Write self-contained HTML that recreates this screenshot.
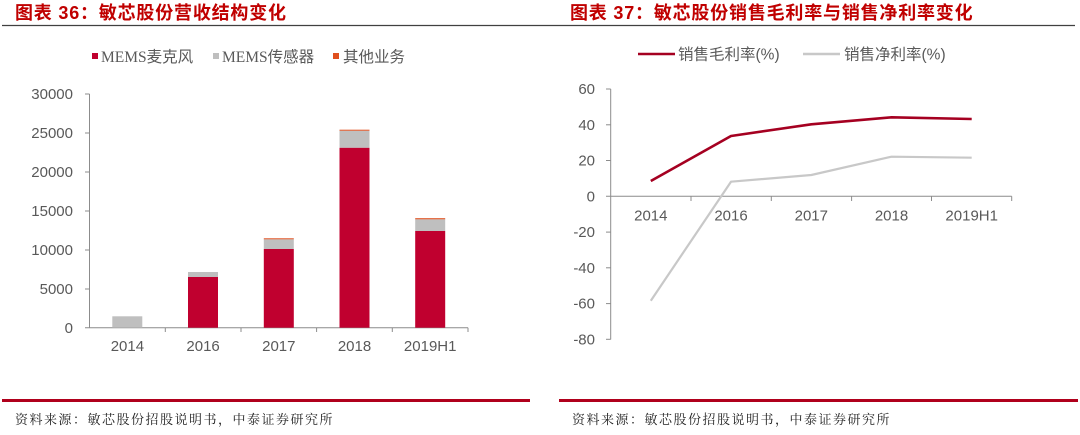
<!DOCTYPE html>
<html><head><meta charset="utf-8">
<style>
html,body{margin:0;padding:0;background:#fff;}
svg{display:block;}
.t{font-family:"Liberation Sans","Noto Sans CJK SC",sans-serif;font-weight:bold;font-size:18px;fill:#c00000;letter-spacing:0.8px;}
.ax{font-family:"Liberation Sans",sans-serif;font-size:15px;fill:#595959;}
.lg{font-family:"Liberation Serif","Noto Sans CJK SC",sans-serif;font-size:15.5px;fill:#595959;}
.lg2{font-family:"Liberation Sans","Noto Sans CJK SC",sans-serif;font-size:15.5px;fill:#595959;}
.ft{font-family:"Liberation Serif","Noto Serif CJK SC",serif;font-size:13px;fill:#222;letter-spacing:1.5px;}
</style></head>
<body>
<svg width="1080" height="435" viewBox="0 0 1080 435" xmlns="http://www.w3.org/2000/svg">
<rect width="1080" height="435" fill="#fff"/>
<!-- titles -->
<text class="t" x="15" y="19">图表 36：敏芯股份营收结构变化</text>
<text class="t" x="570" y="19">图表 37：敏芯股份销售毛利率与销售净利率变化</text>
<line x1="2" y1="25.5" x2="1075" y2="25.5" stroke="#404040" stroke-width="1.2"/>

<!-- LEFT CHART legend -->
<rect x="92" y="53" width="6" height="6" fill="#c0002f"/>
<text class="lg" x="101" y="62">MEMS麦克风</text>
<rect x="213" y="53" width="6" height="6" fill="#bfbfbf"/>
<text class="lg" x="222" y="62">MEMS传感器</text>
<rect x="333" y="53" width="6" height="6" fill="#e0501e"/>
<text class="lg" x="343" y="62">其他业务</text>

<!-- left axes -->
<g stroke="#8c8c8c" stroke-width="1">
<line x1="89.5" y1="94" x2="89.5" y2="328"/>
<line x1="85" y1="94" x2="89.5" y2="94"/>
<line x1="85" y1="133" x2="89.5" y2="133"/>
<line x1="85" y1="172" x2="89.5" y2="172"/>
<line x1="85" y1="211" x2="89.5" y2="211"/>
<line x1="85" y1="250" x2="89.5" y2="250"/>
<line x1="85" y1="289" x2="89.5" y2="289"/>
<line x1="85" y1="327.7" x2="468" y2="327.7"/>
<line x1="165.3" y1="327.7" x2="165.3" y2="332"/>
<line x1="241" y1="327.7" x2="241" y2="332"/>
<line x1="316.6" y1="327.7" x2="316.6" y2="332"/>
<line x1="392.3" y1="327.7" x2="392.3" y2="332"/>
<line x1="468" y1="327.7" x2="468" y2="332"/>
</g>
<g class="ax" text-anchor="end">
<text x="73" y="99">30000</text>
<text x="73" y="138">25000</text>
<text x="73" y="177">20000</text>
<text x="73" y="216">15000</text>
<text x="73" y="255">10000</text>
<text x="73" y="294">5000</text>
<text x="73" y="333">0</text>
</g>
<g class="ax" text-anchor="middle">
<text x="127.4" y="351">2014</text>
<text x="203.1" y="351">2016</text>
<text x="278.8" y="351">2017</text>
<text x="354.5" y="351">2018</text>
<text x="430.2" y="351">2019H1</text>
</g>
<!-- bars -->
<rect x="112.3" y="316.3" width="30" height="11.4" fill="#bfbfbf"/>

<rect x="188" y="277" width="30" height="50.7" fill="#c0002f"/>
<rect x="188" y="272" width="30" height="5" fill="#bfbfbf"/>

<rect x="263.8" y="249" width="30" height="78.7" fill="#c0002f"/>
<rect x="263.8" y="239.3" width="30" height="9.7" fill="#bfbfbf"/>
<rect x="263.8" y="238.3" width="30" height="1" fill="#e0501e"/>

<rect x="339.5" y="147.7" width="30" height="180" fill="#c0002f"/>
<rect x="339.5" y="130.7" width="30" height="17" fill="#bfbfbf"/>
<rect x="339.5" y="129.7" width="30" height="1" fill="#e0501e"/>

<rect x="415.2" y="231" width="30" height="96.7" fill="#c0002f"/>
<rect x="415.2" y="219.3" width="30" height="11.7" fill="#bfbfbf"/>
<rect x="415.2" y="218.2" width="30" height="1.1" fill="#e0501e"/>

<!-- RIGHT CHART legend -->
<line x1="638" y1="54" x2="675" y2="54" stroke="#a50021" stroke-width="2.5"/>
<text class="lg2" x="678" y="59.5">销售毛利率(%)</text>
<line x1="803" y1="54" x2="840" y2="54" stroke="#c8c8c8" stroke-width="2.5"/>
<text class="lg2" x="844" y="59.5">销售净利率(%)</text>

<g stroke="#8c8c8c" stroke-width="1">
<line x1="610.7" y1="89" x2="610.7" y2="339.5"/>
<line x1="606" y1="89" x2="610.7" y2="89"/>
<line x1="606" y1="124.8" x2="610.7" y2="124.8"/>
<line x1="606" y1="160.5" x2="610.7" y2="160.5"/>
<line x1="606" y1="232.1" x2="610.7" y2="232.1"/>
<line x1="606" y1="267.8" x2="610.7" y2="267.8"/>
<line x1="606" y1="303.6" x2="610.7" y2="303.6"/>
<line x1="606" y1="339.3" x2="610.7" y2="339.3"/>
<line x1="606" y1="196.3" x2="1011.7" y2="196.3"/>
<line x1="691" y1="196.3" x2="691" y2="201"/>
<line x1="771.3" y1="196.3" x2="771.3" y2="201"/>
<line x1="851.6" y1="196.3" x2="851.6" y2="201"/>
<line x1="931.5" y1="196.3" x2="931.5" y2="201"/>
<line x1="1011.7" y1="196.3" x2="1011.7" y2="201"/>
</g>
<g class="ax" text-anchor="end">
<text x="595" y="94">60</text>
<text x="595" y="130">40</text>
<text x="595" y="165.5">20</text>
<text x="595" y="201.5">0</text>
<text x="595" y="237">-20</text>
<text x="595" y="273">-40</text>
<text x="595" y="308.5">-60</text>
<text x="595" y="344.5">-80</text>
</g>
<g class="ax" text-anchor="middle">
<text x="650.8" y="220.5">2014</text>
<text x="731" y="220.5">2016</text>
<text x="811.3" y="220.5">2017</text>
<text x="891.5" y="220.5">2018</text>
<text x="971.7" y="220.5">2019H1</text>
</g>
<polyline points="650.8,300.7 731,181.7 811.3,175 891.5,156.7 971.7,157.7" fill="none" stroke="#c8c8c8" stroke-width="2.2" stroke-linejoin="round"/>
<polyline points="650.8,181 731,136 811.3,124.3 891.5,117.3 971.7,119" fill="none" stroke="#a50021" stroke-width="2.6" stroke-linejoin="round"/>

<!-- bottom red rules -->
<rect x="2" y="399" width="528" height="3" fill="#b0001c"/>
<rect x="559" y="399" width="519" height="3" fill="#b0001c"/>
<text class="ft" x="15" y="424">资料来源：敏芯股份招股说明书，中泰证券研究所</text>
<text class="ft" x="572" y="424">资料来源：敏芯股份招股说明书，中泰证券研究所</text>
</svg>
</body></html>
